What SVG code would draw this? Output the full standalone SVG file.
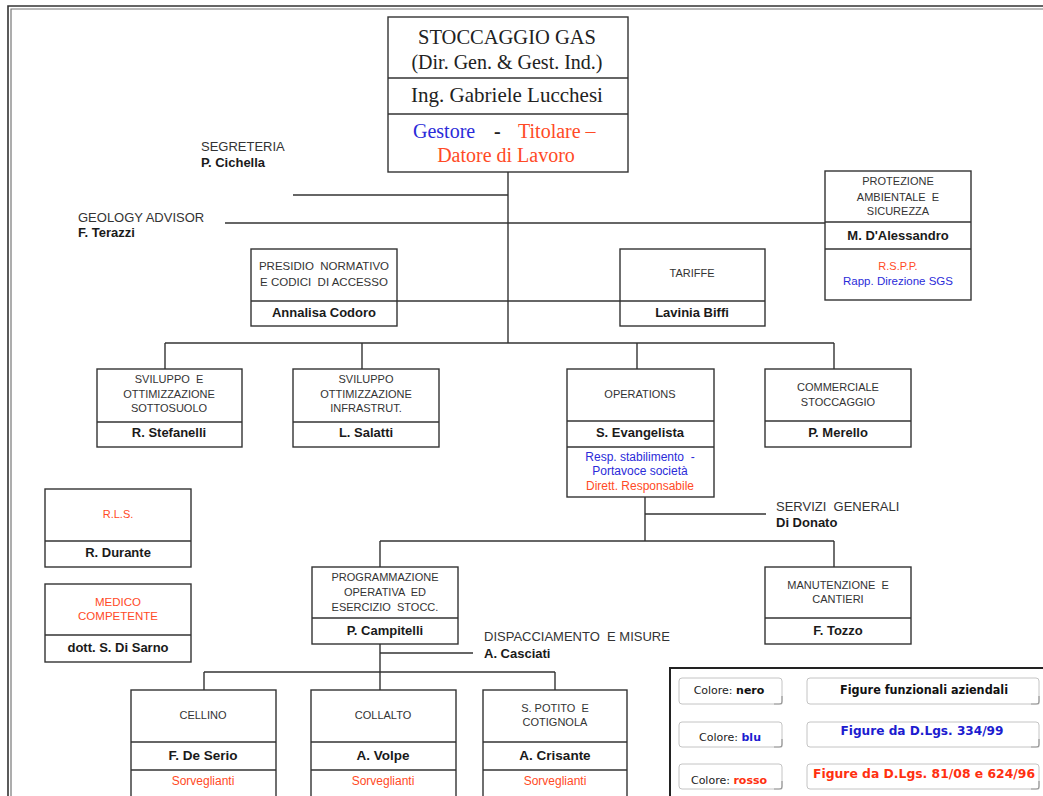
<svg xmlns="http://www.w3.org/2000/svg" width="1043" height="796" viewBox="0 0 1043 796">
<style>
.box{fill:#fff;stroke:#333;stroke-width:1.4}
.div{stroke:#333;stroke-width:1.4}
.con{stroke:#333;stroke-width:1.4;fill:none}
.t{font-family:"Liberation Sans",Arial,sans-serif;font-size:11px;fill:#333;text-anchor:middle}
.n{font-family:"Liberation Sans",Arial,sans-serif;font-size:13px;font-weight:bold;fill:#1a1a1a;text-anchor:middle}
.lab{font-family:"Liberation Sans",Arial,sans-serif;font-size:13px;fill:#333}
.labn{font-family:"Liberation Sans",Arial,sans-serif;font-size:13px;font-weight:bold;fill:#1a1a1a}
.s{font-family:"Liberation Serif","Times New Roman",serif;font-size:20px;fill:#222;text-anchor:middle}
.blue{fill:#2b2bd9}
.red{fill:#ff4a26}
.sm{font-size:12px}
.lg{fill:#fff;stroke:#c4c4c4;stroke-width:1}
.lgs{fill:none;stroke:#9a9a9a;stroke-width:1.2}
.lt{font-family:"DejaVu Sans",sans-serif;font-size:11px;fill:#222;text-anchor:middle}
.lb{font-family:"DejaVu Sans",sans-serif;font-size:11.5px;font-weight:bold;fill:#111;text-anchor:middle}
.pre{white-space:pre}
</style>

<g id="frame">
<path d="M8,796 V6 H1043" fill="none" stroke="#333" stroke-width="1.6"/>
<path d="M11,796 V9 H1043" fill="none" stroke="#777" stroke-width="1.2"/>
</g>

<g id="connectors">
<line class="con" x1="508" y1="172" x2="508" y2="343"/>
<line class="con" x1="293" y1="195" x2="508" y2="195"/>
<line class="con" x1="225" y1="223" x2="825" y2="223"/>
<line class="con" x1="397" y1="301" x2="620" y2="301"/>
<line class="con" x1="165" y1="343" x2="834" y2="343"/>
<line class="con" x1="165" y1="343" x2="165" y2="369"/>
<line class="con" x1="362" y1="343" x2="362" y2="369"/>
<line class="con" x1="637" y1="343" x2="637" y2="369"/>
<line class="con" x1="834" y1="343" x2="834" y2="369"/>
<line class="con" x1="645" y1="497" x2="645" y2="541"/>
<line class="con" x1="645" y1="514" x2="766" y2="514"/>
<line class="con" x1="380" y1="541" x2="834" y2="541"/>
<line class="con" x1="380" y1="541" x2="380" y2="567"/>
<line class="con" x1="834" y1="541" x2="834" y2="567"/>
<line class="con" x1="380" y1="644" x2="380" y2="690"/>
<line class="con" x1="380" y1="653" x2="473" y2="653"/>
<line class="con" x1="204" y1="672" x2="555" y2="672"/>
<line class="con" x1="204" y1="672" x2="204" y2="690"/>
<line class="con" x1="555" y1="672" x2="555" y2="690"/>
</g>

<g id="stoccaggio">
<rect class="box" x="388" y="17" width="240" height="155"/>
<line class="div" x1="388" y1="78" x2="628" y2="78"/>
<line class="div" x1="388" y1="114" x2="628" y2="114"/>
<text class="s" x="507" y="44" style="font-size:20.5px">STOCCAGGIO GAS</text>
<text class="s" x="507" y="69">(Dir. Gen. &amp; Gest. Ind.)</text>
<text class="s" x="507" y="102" style="font-size:21px">Ing. Gabriele Lucchesi</text>
<text class="s" y="138" style="text-anchor:start"><tspan x="413" class="blue">Gestore</tspan><tspan x="494" font-weight="bold">-</tspan><tspan x="518" class="red">Titolare –</tspan></text>
<text class="s red" x="506" y="162">Datore di Lavoro</text>
</g>

<g id="segreteria">
<text class="lab" x="201" y="151">SEGRETERIA</text>
<text class="labn" x="201" y="167">P. Cichella</text>
</g>

<g id="geology">
<text class="lab" x="78" y="222">GEOLOGY ADVISOR</text>
<text class="labn" x="78" y="237">F. Terazzi</text>
</g>

<g id="protezione">
<rect class="box" x="825" y="171" width="146" height="129"/>
<line class="div" x1="825" y1="222" x2="971" y2="222"/>
<line class="div" x1="825" y1="249" x2="971" y2="249"/>
<text class="t" x="898" y="185">PROTEZIONE</text>
<text class="t pre" x="898" y="201">AMBIENTALE  E</text>
<text class="t" x="898" y="215">SICUREZZA</text>
<text class="n" x="898" y="240">M. D'Alessandro</text>
<text class="t red" x="898" y="270">R.S.P.P.</text>
<text class="t blue" x="898" y="285" style="font-size:11.5px">Rapp. Direzione SGS</text>
</g>

<g id="presidio">
<rect class="box" x="251" y="249" width="146" height="77"/>
<line class="div" x1="251" y1="301" x2="397" y2="301"/>
<text class="t pre" x="324" y="270" style="font-size:11.5px">PRESIDIO  NORMATIVO</text>
<text class="t pre" x="324" y="286" style="font-size:11.5px">E CODICI  DI ACCESSO</text>
<text class="n" x="324" y="317">Annalisa Codoro</text>
</g>

<g id="tariffe">
<rect class="box" x="620" y="249" width="145" height="77"/>
<line class="div" x1="620" y1="301" x2="765" y2="301"/>
<text class="t" x="692" y="277">TARIFFE</text>
<text class="n" x="692" y="317">Lavinia Biffi</text>
</g>

<g id="sottosuolo">
<rect class="box" x="97" y="369" width="145" height="78"/>
<line class="div" x1="97" y1="422" x2="242" y2="422"/>
<text class="t pre" x="169" y="383">SVILUPPO  E</text>
<text class="t" x="169" y="398">OTTIMIZZAZIONE</text>
<text class="t" x="169" y="412">SOTTOSUOLO</text>
<text class="n" x="169" y="437">R. Stefanelli</text>
</g>

<g id="infrastrut">
<rect class="box" x="293" y="369" width="146" height="78"/>
<line class="div" x1="293" y1="422" x2="439" y2="422"/>
<text class="t" x="366" y="383">SVILUPPO</text>
<text class="t" x="366" y="398">OTTIMIZZAZIONE</text>
<text class="t" x="366" y="412">INFRASTRUT.</text>
<text class="n" x="366" y="437">L. Salatti</text>
</g>

<g id="operations">
<rect class="box" x="567" y="369" width="147" height="128"/>
<line class="div" x1="567" y1="421" x2="714" y2="421"/>
<line class="div" x1="567" y1="447" x2="714" y2="447"/>
<text class="t" x="640" y="398">OPERATIONS</text>
<text class="n" x="640" y="437">S. Evangelista</text>
<text class="t blue sm pre" x="640" y="461">Resp. stabilimento  -</text>
<text class="t blue sm" x="640" y="475">Portavoce società</text>
<text class="t red sm" x="640" y="490">Dirett. Responsabile</text>
</g>

<g id="commerciale">
<rect class="box" x="765" y="369" width="146" height="78"/>
<line class="div" x1="765" y1="421" x2="911" y2="421"/>
<text class="t" x="838" y="391">COMMERCIALE</text>
<text class="t" x="838" y="406">STOCCAGGIO</text>
<text class="n" x="838" y="437">P. Merello</text>
</g>

<g id="servizi">
<text class="lab pre" x="776" y="511">SERVIZI  GENERALI</text>
<text class="labn" x="776" y="527">Di Donato</text>
</g>

<g id="rls">
<rect class="box" x="45" y="489" width="146" height="78"/>
<line class="div" x1="45" y1="541" x2="191" y2="541"/>
<text class="t red" x="118" y="518">R.L.S.</text>
<text class="n" x="118" y="557">R. Durante</text>
</g>

<g id="medico">
<rect class="box" x="45" y="584" width="146" height="78"/>
<line class="div" x1="45" y1="635" x2="191" y2="635"/>
<text class="t red" x="118" y="606" style="font-size:11.5px">MEDICO</text>
<text class="t red" x="118" y="620" style="font-size:11.5px">COMPETENTE</text>
<text class="n" x="118" y="652">dott. S. Di Sarno</text>
</g>

<g id="programmazione">
<rect class="box" x="312" y="567" width="146" height="77"/>
<line class="div" x1="312" y1="618" x2="458" y2="618"/>
<text class="t" x="385" y="581">PROGRAMMAZIONE</text>
<text class="t pre" x="385" y="596">OPERATIVA  ED</text>
<text class="t pre" x="385" y="611">ESERCIZIO  STOCC.</text>
<text class="n" x="385" y="635">P. Campitelli</text>
</g>

<g id="manutenzione">
<rect class="box" x="765" y="567" width="146" height="77"/>
<line class="div" x1="765" y1="618" x2="911" y2="618"/>
<text class="t pre" x="838" y="589">MANUTENZIONE  E</text>
<text class="t" x="838" y="603">CANTIERI</text>
<text class="n" x="838" y="635">F. Tozzo</text>
</g>

<g id="dispacciamento">
<text class="lab pre" x="484" y="641">DISPACCIAMENTO  E MISURE</text>
<text class="labn" x="484" y="658">A. Casciati</text>
</g>

<g id="cellino">
<rect class="box" x="131" y="690" width="145" height="110"/>
<line class="div" x1="131" y1="742" x2="276" y2="742"/>
<line class="div" x1="131" y1="770" x2="276" y2="770"/>
<text class="t" x="203" y="719">CELLINO</text>
<text class="n" x="203" y="760" style="font-size:13.5px">F. De Serio</text>
<text class="t red sm" x="203" y="785">Sorveglianti</text>
</g>

<g id="collalto">
<rect class="box" x="311" y="690" width="145" height="110"/>
<line class="div" x1="311" y1="742" x2="456" y2="742"/>
<line class="div" x1="311" y1="770" x2="456" y2="770"/>
<text class="t" x="383" y="719">COLLALTO</text>
<text class="n" x="383" y="760" style="font-size:13.5px">A. Volpe</text>
<text class="t red sm" x="383" y="785">Sorveglianti</text>
</g>

<g id="potito">
<rect class="box" x="483" y="690" width="144" height="110"/>
<line class="div" x1="483" y1="742" x2="627" y2="742"/>
<line class="div" x1="483" y1="770" x2="627" y2="770"/>
<text class="t pre" x="555" y="712">S. POTITO  E</text>
<text class="t" x="555" y="726">COTIGNOLA</text>
<text class="n" x="555" y="760" style="font-size:13.5px">A. Crisante</text>
<text class="t red sm" x="555" y="785">Sorveglianti</text>
</g>

<g id="legend">
<path d="M670,796 V668 H1043" fill="none" stroke="#222" stroke-width="2"/>
<rect class="lg" x="679" y="678" width="103" height="26" rx="3"/>
<path class="lgs" d="M782,696 V702 Q782,704 780,704 H774"/>
<rect class="lg" x="807" y="678" width="232" height="26" rx="3"/>
<path class="lgs" d="M1039,696 V702 Q1039,704 1037,704 H1031"/>
<rect class="lg" x="679" y="722" width="103" height="25" rx="3"/>
<path class="lgs" d="M782,739 V745 Q782,747 780,747 H774"/>
<rect class="lg" x="807" y="722" width="232" height="25" rx="3"/>
<path class="lgs" d="M1039,739 V745 Q1039,747 1037,747 H1031"/>
<rect class="lg" x="679" y="764" width="103" height="25" rx="3"/>
<path class="lgs" d="M782,781 V787 Q782,789 780,789 H774"/>
<rect class="lg" x="807" y="764" width="232" height="25" rx="3"/>
<path class="lgs" d="M1039,781 V787 Q1039,789 1037,789 H1031"/>
<text class="lt" x="729" y="694">Colore: <tspan font-weight="bold" fill="#111">nero</tspan></text>
<text class="lb" x="924" y="694" textLength="168" lengthAdjust="spacingAndGlyphs">Figure funzionali aziendali</text>
<text class="lt" x="730" y="741">Colore: <tspan font-weight="bold" fill="#1c1cd0">blu</tspan></text>
<text class="lb" x="922" y="735" style="fill:#1c1cd0" textLength="163" lengthAdjust="spacingAndGlyphs">Figure da D.Lgs. 334/99</text>
<text class="lt" x="729" y="784">Colore: <tspan font-weight="bold" fill="#ff3010">rosso</tspan></text>
<text class="lb" x="924" y="778" style="fill:#ff3010" textLength="222" lengthAdjust="spacingAndGlyphs">Figure da D.Lgs. 81/08 e 624/96</text>
</g>
</svg>
